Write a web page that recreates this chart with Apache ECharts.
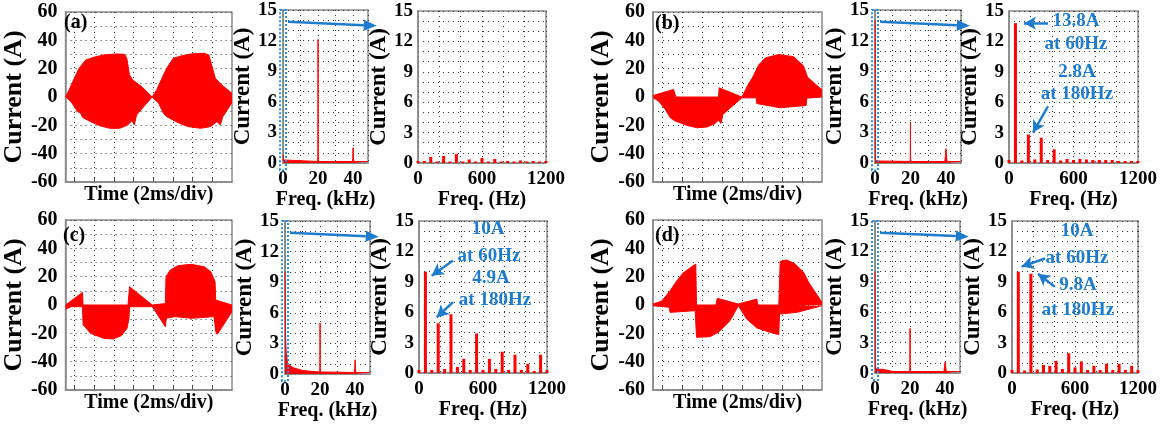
<!DOCTYPE html>
<html><head><meta charset="utf-8">
<script src="https://cdn.jsdelivr.net/npm/echarts@6/dist/echarts.min.js"></script>
<style>html,body{margin:0;padding:0;background:#fff}#c{width:1170px;height:425px}</style>
</head><body><div id="c"></div>
<script>
// ---------------- DATA ----------------
// Time-domain current envelopes: [time (ms), current (A)]
const aUpper = [[-0.9,0],[-0.51,5.4],[-0.01,13.2],[0.48,20.3],[1.14,26.1],[1.96,28.0],[2.95,29.7],[4.27,30.4],[5.09,30.1],[5.32,27.3],[5.59,15.6],[5.92,12.0],[6.9,6.9],[7.89,0],[8.38,5.4],[8.88,13.2],[9.37,20.3],[10.03,27.3],[10.85,29.0],[11.84,30.4],[13.16,30.9],[13.65,29.7],[13.98,21.4],[14.31,13.2],[14.97,8.5],[16,2.6]];
const aLower = [[-0.9,0],[-0.34,-3.3],[0.32,-10.3],[0.65,-11.5],[0.81,-14.3],[1.63,-17.4],[2.62,-20.4],[3.61,-22.1],[4.6,-22.1],[5.42,-19.7],[5.85,-16.7],[6.08,-19.7],[6.31,-12.7],[7.89,0],[8.55,-4.4],[9.04,-11.5],[9.37,-13.9],[10.53,-18.1],[11.51,-20.9],[12.83,-22.1],[13.82,-20.9],[14.48,-17.4],[14.81,-19.7],[15.07,-13.9],[16,-4]];
const bUpper = [[-0.9,1],[1.16,5.3],[1.33,5.3],[1.39,0],[5.65,0],[5.72,6.5],[7.99,0],[8.49,7],[9.15,15],[9.65,22.5],[10.32,27.5],[11.65,30],[13.15,28.5],[14.15,22],[14.55,14],[16,5]];
const bLower = [[-0.9,-0.5],[-0.34,-2.9],[0.33,-8.8],[0.83,-14.7],[1.33,-17],[2.49,-20],[3.49,-21.7],[4.49,-21.2],[5.32,-18.7],[5.65,-16.3],[5.89,-18.7],[6.09,-12.3],[7.99,-0.6],[9.42,-0.6],[9.48,-4.6],[11.81,-7.6],[14.41,-6],[14.48,-0.8],[16,0]];
const cUpper = [[-0.9,0],[0.82,8.9],[0.88,0],[5.44,0],[5.6,12.9],[7.91,0],[9.23,1],[9.3,20],[9.73,24.7],[10.55,27.8],[11.87,28.7],[13.19,27],[13.85,23.5],[14.28,16.5],[14.35,3.5],[16,0]];
const cLower = [[-0.9,-3],[-0.34,-1.2],[0.82,-1.2],[0.88,-14],[1.64,-20],[2.96,-23.5],[3.95,-24],[4.78,-21.6],[5.34,-16.5],[5.54,-9.4],[5.6,-1.2],[7.91,-1.2],[9.23,-15.3],[9.33,-9.4],[10.22,-8.2],[11.87,-9.4],[14.18,-8.2],[14.35,-18.8],[14.51,-20.7],[16,-4.7]];
const dUpper = [[-0.9,0.7],[-0.06,2.6],[0.77,9.6],[1.44,16.7],[2.11,22.6],[2.78,26.1],[3.38,28.9],[3.45,0],[5.39,0],[5.53,4.7],[7.63,0.7],[9.48,4.2],[9.58,0],[11.68,0],[11.82,30.8],[12.49,31.8],[13.32,28.9],[14.16,23.1],[14.66,16],[16,1.9]];
const dLower = [[-0.9,-0.5],[0.71,-1.6],[0.81,-5.2],[3.32,-4],[3.45,-22.8],[4.79,-22.4],[5.63,-19.3],[6.8,-11.1],[7.63,-0.5],[8.47,-9.9],[9.48,-16.2],[10.81,-19.3],[11.68,-20.9],[11.75,-6.4],[13.49,-5.2],[16,-0.5]];
const timeTicks = [0,2,4,6,8,10,12,14];   // 2 ms/div grid

// Wide-band spectra: [freq (kHz), current (A)]
const aKhz = [[0,0.8],[0.3,0.3],[1,0.15],[19.8,0.15],[19.93,0.8],[19.97,4.5],[20,12.1],[20.03,4.5],[20.07,0.8],[20.3,0.15],[39.6,0.15],[39.85,0.5],[40,1.5],[40.15,0.5],[40.4,0.15],[48.5,0.15]];
const bKhz = [[0,14],[0.06,13.8],[0.2,0.5],[0.5,0.2],[1,0.15],[19.8,0.15],[19.93,0.5],[20,4.0],[20.07,0.5],[20.3,0.15],[39.3,0.15],[39.6,0.5],[40,1.4],[40.4,0.5],[40.7,0.15],[48.5,0.15]];
const cKhz = [[0,10],[0.3,3.8],[0.7,2],[1.5,1.1],[3,0.8],[5,0.6],[10,0.35],[15,0.25],[19.8,0.2],[19.93,0.6],[20,5.0],[20.07,0.6],[20.3,0.2],[39.5,0.15],[39.8,0.5],[40,1.4],[40.2,0.5],[40.5,0.15],[48.5,0.15]];
const dKhz = [[0,10],[0.2,1],[0.5,0.4],[5,0.35],[10,0.15],[19.8,0.15],[19.93,0.5],[20,4.4],[20.07,0.5],[20.3,0.15],[39.3,0.15],[39.6,0.5],[40,1.1],[40.4,0.5],[40.7,0.15],[48.5,0.15]];

// Low-frequency harmonic spectra (Hz bins, A)
const hzBins = [0,60,120,180,240,300,360,420,480,540,600,660,720,780,840,900,960,1020,1080,1140,1200];
const aHz = [0.2,0.2,0.6,0.15,0.7,0.15,0.9,0.15,0.35,0.15,0.5,0.15,0.4,0.15,0.2,0.15,0.25,0.15,0.2,0.15,0.2];
const bHz = [0.3,13.8,0.25,2.8,0.35,2.5,0.3,1.35,0.25,0.4,0.3,0.4,0.35,0.3,0.3,0.3,0.3,0.2,0.2,0.2,0.2];
const cHz = [0.3,10,0.3,4.9,0.4,5.8,0.6,1.4,0.3,3.9,0.3,1.4,0.4,2.1,0.3,1.8,0.3,0.9,0.2,1.8,0.3];
const dHz = [0.3,10,0.25,9.8,0.35,0.8,0.7,1.2,0.4,1.95,0.55,1.15,0.3,0.7,0.3,0.9,0.3,0.9,0.3,0.7,0.3];

// Annotations (data coordinates)
const bAnnText = ['13.8A','at 60Hz','2.8A','at 180Hz'];
const bAnnPos = [[623,14.0],[623,11.7],[632,9.0],[632,6.8]];
const bArrows = [[[363,13.8],[140,13.8]],[[363,5.6],[223,3.0]]];
const cAnnText = ['10A','at 60Hz','4.9A','at 180Hz'];
const cAnnPos = [[647,14.2],[656,11.5],[675,9.4],[712,7.2]];
const cArrows = [[[319,11.1],[119,9.6]],[[319,7.0],[166,5.5]]];
const dAnnText = ['10A','at 60Hz','9.8A','at 180Hz'];
const dAnnPos = [[619,14.0],[619,11.3],[628,8.65],[628,6.2]];
const dArrows = [[[314,11.3],[92,10.5]],[[409,8.5],[248,9.8]]];
const zoomBox = [[-1.7,-0.7],[1.7,15]];       // kHz, A (zoomed band marker)
const zoomArrow = [[2.9,13.85],[53.5,13.45]]; // kHz, A (pointer to the zoomed plot)

const panelLabels = ['(a)','(b)','(c)','(d)'];
const timeTitle = 'Time (2ms/div)', khzTitle = 'Freq. (kHz)', hzTitle = 'Freq. (Hz)', yTitle = 'Current (A)';

// ---------------- LAYOUT / STYLE ----------------
const FONT = 'Liberation Serif';
const RED = '#ff0000', BLUE = '#1f7ccc', BOXBLUE = '#2b8ee0', FRAME = '#8a8a8a', GRIDC = '#333';
const layout = [
  {time:[61,12,171,170], khz:[283,10,85,153], hz:[418,11,128,152], lab:[64,13]},
  {time:[653,12,169,170], khz:[875,10,86,153], hz:[1009,11,129,152], lab:[655,14]},
  {time:[61,220,171,170], khz:[285,221,85,153], hz:[419,221,128,152], lab:[63,226]},
  {time:[653,220,169,170], khz:[875,221,85,152], hz:[1012,221,126,152], lab:[655,226]}
];
const panels = [
  {up:aUpper, lo:aLower, khz:aKhz, hz:aHz, ann:null},
  {up:bUpper, lo:bLower, khz:bKhz, hz:bHz, ann:{t:bAnnText,p:bAnnPos,a:bArrows}},
  {up:cUpper, lo:cLower, khz:cKhz, hz:cHz, ann:{t:cAnnText,p:cAnnPos,a:cArrows}},
  {up:dUpper, lo:dLower, khz:dKhz, hz:dHz, ann:{t:dAnnText,p:dAnnPos,a:dArrows}}
];

const txt = (size) => ({fontFamily: FONT, fontWeight: 'bold', fontSize: size, color: '#000'});
const splitLine = {show: true, lineStyle: {color: GRIDC, width: 1, type: [1, 4]}};
const axisLine = {show: true, onZero: false, lineStyle: {color: FRAME, width: 1.5}};

const grid = [], xAxis = [], yAxis = [], series = [];
const khzGrids = [];

function addGrid(r) {
  grid.push({left: r[0], top: r[1], width: r[2], height: r[3], show: true, borderColor: FRAME, borderWidth: 1.5, backgroundColor: '#fff'});
  return grid.length - 1;
}

panels.forEach((p, i) => {
  const L = layout[i];
  // time domain
  let g = addGrid(L.time);
  xAxis.push({gridIndex: g, type: 'value', min: -0.9, max: 16,
    axisLabel: {show: false, customValues: timeTicks},
    axisTick: {show: true, inside: true, length: 4, customValues: timeTicks, lineStyle: {color: '#555'}},
    splitLine, axisLine, name: timeTitle, nameLocation: 'middle', nameGap: 3, nameTextStyle: txt(20)});
  yAxis.push({gridIndex: g, type: 'value', min: -60, max: 60, interval: 10,
    axisLabel: Object.assign(txt(20), {margin: 8, formatter: v => (v % 20 === 0 ? String(v) : '')}),
    axisTick: {show: false}, splitLine, axisLine, name: yTitle, nameLocation: 'middle', nameGap: 29,
    nameTextStyle: txt(26)});
  [p.up, p.lo].forEach(d => series.push({type: 'line', xAxisIndex: g, yAxisIndex: g, data: d, symbol: 'none',
    lineStyle: {color: RED, width: 1}, areaStyle: {color: RED, opacity: 1}, silent: true, animation: false}));

  // wide-band spectrum
  g = addGrid(L.khz);
  khzGrids.push(g);
  xAxis.push({gridIndex: g, type: 'value', min: 0, max: 48.5, interval: 10,
    axisLabel: Object.assign(txt(19), {margin: 7, formatter: v => (v % 20 === 0 ? String(v) : '')}),
    axisTick: {show: false}, splitLine, axisLine, name: khzTitle, nameLocation: 'middle', nameGap: 23, nameTextStyle: txt(20)});
  yAxis.push({gridIndex: g, type: 'value', min: 0, max: 15, interval: 1,
    axisLabel: Object.assign(txt(19), {margin: 6, formatter: v => (v % 3 === 0 ? String(v) : '')}),
    axisTick: {show: false}, splitLine, axisLine, name: yTitle, nameLocation: 'middle', nameGap: 26, nameTextStyle: txt(23)});
  series.push({type: 'line', xAxisIndex: g, yAxisIndex: g, data: p.khz, symbol: 'none',
    lineStyle: {color: RED, width: 1}, areaStyle: {color: RED, opacity: 1}, silent: true, animation: false});

  // low-frequency spectrum
  g = addGrid(L.hz);
  xAxis.push({gridIndex: g, type: 'value', min: 0, max: 1200, interval: 200,
    axisLabel: Object.assign(txt(19), {margin: 7, formatter: v => (v % 600 === 0 ? String(v) : '')}),
    axisTick: {show: false}, splitLine, axisLine, name: hzTitle, nameLocation: 'middle', nameGap: 23, nameTextStyle: txt(20)});
  yAxis.push({gridIndex: g, type: 'value', min: 0, max: 15, interval: 1,
    axisLabel: Object.assign(txt(19), {margin: 5, formatter: v => (v % 3 === 0 ? String(v) : '')}),
    axisTick: {show: false}, splitLine, axisLine, name: yTitle, nameLocation: 'middle', nameGap: 23, nameTextStyle: txt(23)});
  const s = {type: 'bar', xAxisIndex: g, yAxisIndex: g, data: hzBins.map((f, k) => [f, p.hz[k]]), barWidth: 3,
    itemStyle: {color: RED}, silent: true, animation: false};
  if (p.ann) {
    s.markPoint = {silent: true, symbol: 'circle', symbolSize: 0,
      label: {show: true, position: 'inside', formatter: '{b}', fontFamily: FONT, fontWeight: 'bold', fontSize: 19, color: BLUE},
      data: p.ann.t.map((t, k) => ({name: t, coord: p.ann.p[k]}))};
    s.markLine = {silent: true, symbol: ['none', 'arrow'], symbolSize: [10, 12], label: {show: false},
      lineStyle: {color: BLUE, width: 2.5, type: 'solid'},
      data: p.ann.a.map(a => [{coord: a[0]}, {coord: a[1]}])};
  }
  series.push(s);
});

const chart = echarts.init(document.getElementById('c'), null, {renderer: 'canvas'});
chart.setOption({animation: false, backgroundColor: '#fff', grid, xAxis, yAxis, series});

// Annotation overlays placed through the axes' own scales
const graphic = [];
panels.forEach((p, i) => {
  const L = layout[i];
  graphic.push({type: 'text', left: L.lab[0], top: L.lab[1], z: 100,
    style: {text: panelLabels[i], font: 'bold 20px "Liberation Serif"', fill: '#000'}});
  const g = khzGrids[i];
  const b0 = chart.convertToPixel({gridIndex: g}, zoomBox[0]);
  const b1 = chart.convertToPixel({gridIndex: g}, zoomBox[1]);
  graphic.push({type: 'rect', z: 100, shape: {x: Math.min(b0[0], b1[0]), y: Math.min(b0[1], b1[1]),
      width: Math.abs(b1[0] - b0[0]), height: Math.abs(b1[1] - b0[1])},
    style: {fill: 'none', stroke: BOXBLUE, lineWidth: 2, lineDash: [2, 2]}});
  const a0 = chart.convertToPixel({gridIndex: g}, zoomArrow[0]);
  const a1 = chart.convertToPixel({gridIndex: g}, zoomArrow[1]);
  const dx = a1[0] - a0[0], dy = a1[1] - a0[1], len = Math.hypot(dx, dy);
  const ux = dx / len, uy = dy / len, hl = 13, hw = 5.5;
  const base = [a1[0] - ux * hl, a1[1] - uy * hl];
  graphic.push({type: 'line', z: 100, shape: {x1: a0[0], y1: a0[1], x2: base[0], y2: base[1]},
    style: {stroke: BLUE, lineWidth: 2.5}});
  graphic.push({type: 'polygon', z: 100, shape: {points: [a1, [base[0] - uy * hw, base[1] + ux * hw], [base[0] + uy * hw, base[1] - ux * hw]]},
    style: {fill: BLUE}});
});
chart.setOption({graphic});
</script></body></html>
